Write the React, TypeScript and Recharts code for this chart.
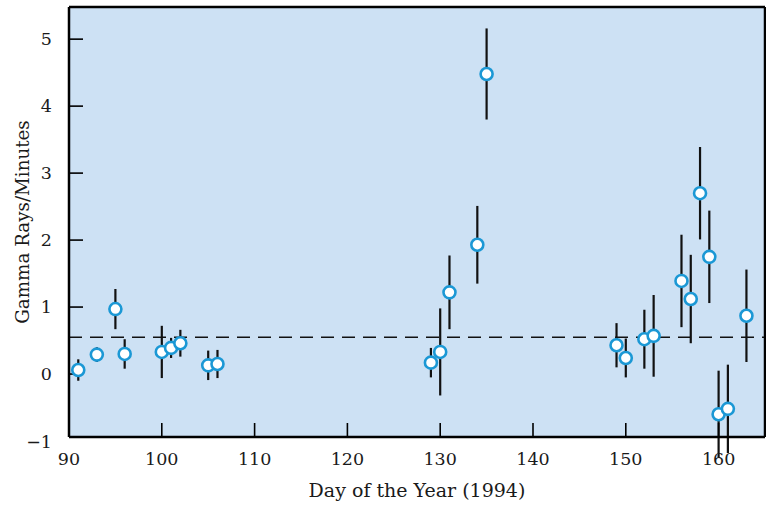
import { ComposedChart, ErrorBar, ReferenceArea, ReferenceLine, Scatter, XAxis, YAxis } from 'recharts'

const days = [91, 93, 95, 96, 100, 101, 102, 105, 106, 129, 130, 131, 134, 135, 149, 150, 152, 153, 156, 157, 158, 159, 160, 161, 163]
const rates = [0.06, 0.29, 0.97, 0.3, 0.33, 0.39, 0.46, 0.13, 0.15, 0.17, 0.33, 1.22, 1.93, 4.48, 0.43, 0.24, 0.52, 0.57, 1.39, 1.12, 2.7, 1.75, -0.6, -0.52, 0.87]
const errors = [0.16, 0.11, 0.3, 0.22, 0.39, 0.15, 0.2, 0.22, 0.21, 0.22, 0.65, 0.55, 0.58, 0.68, 0.33, 0.29, 0.44, 0.61, 0.69, 0.66, 0.69, 0.69, 0.65, 0.66, 0.69]
const xTicks = [90, 100, 110, 120, 130, 140, 150, 160]
// the bottom frame sits just above -1, so the "-1" label is pinned to the axis
const yMin = -0.94
const yMax = 5.48
const yTicks = [yMin, 0, 1, 2, 3, 4, 5]
const baseline = 0.55

const data = days.map((day, i) => ({ day, rate: rates[i], err: errors[i] }))

const bg = '#cde1f4'
const blue = '#1b98d5'
const font = 'DejaVu Serif'
const tickStyle = { fontFamily: font, fontSize: 17.5, fill: '#1a1a1a' }

function Marker(props: any) {
  const { cx, cy } = props
  if (cx == null || cy == null) return null
  return <circle cx={cx} cy={cy} r={6} fill="#ffffff" stroke={blue} strokeWidth={2.6} />
}

function YTick(props: any) {
  const { x, y, payload } = props
  const v = payload.value
  const isMin = v === yMin
  return (
    <text x={x} y={y} dy={isMin ? '0.62em' : '0.355em'} textAnchor="end" {...tickStyle}>
      {isMin ? '\u22121' : v}
    </text>
  )
}

export default function App() {
  return (
    <div style={{ position: 'absolute', left: 0, top: 0, background: '#fff' }}>
      <ComposedChart width={766} height={506} data={data} margin={{ top: 6, right: 0, bottom: 0, left: 0 }}>
        <XAxis
          dataKey="day"
          type="number"
          domain={[90, 165]}
          ticks={xTicks}
          allowDataOverflow
          height={69}
          tickSize={-14}
          tickMargin={30}
          tick={tickStyle}
          axisLine={{ stroke: '#000', strokeWidth: 2.5 }}
          tickLine={{ stroke: '#000', strokeWidth: 1.6 }}
          label={{
            value: 'Day of the Year (1994)',
            position: 'insideBottom',
            offset: 9,
            style: { fontFamily: font, fontSize: 19, fill: '#1a1a1a' },
          }}
        />
        <XAxis
          xAxisId="top"
          orientation="top"
          type="number"
          domain={[90, 165]}
          ticks={xTicks}
          allowDataOverflow
          height={1}
          tickSize={-14}
          tick={false}
          axisLine={{ stroke: '#000', strokeWidth: 2.5 }}
          tickLine={{ stroke: '#000', strokeWidth: 1.6 }}
        />
        <YAxis
          type="number"
          domain={[yMin, yMax]}
          ticks={yTicks}
          allowDataOverflow
          width={69}
          tickSize={-14}
          tickMargin={31}
          tick={<YTick />}
          axisLine={{ stroke: '#000', strokeWidth: 2.5 }}
          tickLine={{ stroke: '#000', strokeWidth: 1.6 }}
          label={{
            value: 'Gamma Rays/Minutes',
            angle: -90,
            position: 'insideLeft',
            offset: 23,
            style: { fontFamily: font, fontSize: 18.3, fill: '#1a1a1a', textAnchor: 'middle' },
          }}
        />
        <YAxis
          yAxisId="right"
          orientation="right"
          type="number"
          domain={[yMin, yMax]}
          ticks={[0, 1, 2, 3, 4, 5]}
          allowDataOverflow
          width={1}
          tickSize={-14}
          tick={false}
          axisLine={{ stroke: '#000', strokeWidth: 2.5 }}
          tickLine={{ stroke: '#000', strokeWidth: 1.6 }}
        />
        <ReferenceArea x1={90} x2={165} y1={yMin} y2={yMax} fill={bg} fillOpacity={1} stroke="none" ifOverflow="hidden" />
        <ReferenceLine y={baseline} stroke="#111" strokeWidth={1.6} strokeDasharray="13 8" />
        <Scatter dataKey="rate" shape={<Marker />} isAnimationActive={false}>
          <ErrorBar dataKey="err" direction="y" width={0} stroke="#111" strokeWidth={2.2} />
        </Scatter>
      </ComposedChart>
    </div>
  )
}
